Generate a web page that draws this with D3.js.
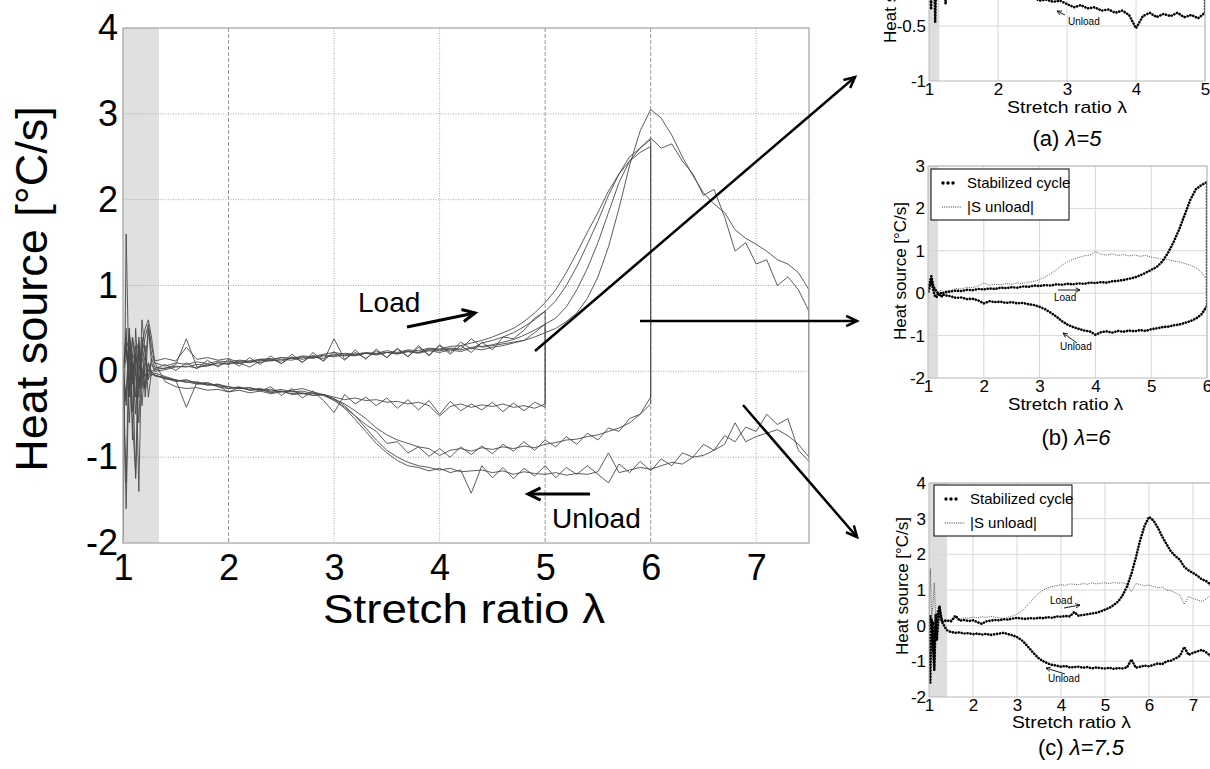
<!DOCTYPE html>
<html>
<head>
<meta charset="utf-8">
<script src="https://cdn.jsdelivr.net/npm/d3@7"></script>
<style>
    body { margin: 0; background: #fff; }
    svg text { font-family: Arial, "Liberation Sans", sans-serif; fill: #000; }
</style>
</head>
<body>
<div id="fig"></div>
<script>
// stretch ratio grid (fine steps in the shaded start zone, then 0.1)
var lam = [1.0, 1.03, 1.06, 1.09, 1.12, 1.15, 1.18, 1.21, 1.24, 1.27, 1.3,
    1.4, 1.5, 1.6, 1.7, 1.8, 1.9, 2.0, 2.1, 2.2, 2.3,
    2.4, 2.5, 2.6, 2.7, 2.8, 2.9, 3.0, 3.1, 3.2, 3.3,
    3.4, 3.5, 3.6, 3.7, 3.8, 3.9, 4.0, 4.1, 4.2, 4.3,
    4.4, 4.5, 4.6, 4.7, 4.8, 4.9, 5.0, 5.1, 5.2, 5.3,
    5.4, 5.5, 5.6, 5.7, 5.8, 5.9, 6.0, 6.1, 6.2, 6.3,
    6.4, 6.5, 6.6, 6.7, 6.8, 6.9, 7.0, 7.1, 7.2, 7.3,
    7.4, 7.5];

// cycles up to lambda = 5
var load5a = [0.0, 0.3, -0.1, 0.4, 0.1, 0.2, 0.05, -0.2, 0.5, 0.1, 0.0,
    0.02, 0.05, 0.06, 0.04, 0.08, 0.07, 0.1, 0.09, 0.12, 0.1,
    0.13, 0.12, 0.16, 0.14, 0.17, 0.15, 0.2, 0.18, 0.19, 0.21,
    0.19, 0.22, 0.2, 0.23, 0.21, 0.24, 0.22, 0.25, 0.23, 0.27,
    0.25, 0.28, 0.3, 0.33, 0.36, 0.45, 0.55];
var unload5a = [0.0, -0.35, 0.3, -0.47, 0.5, -0.2, 0.1, 0.3, -0.3, 0.0, -0.05,
    -0.08, -0.12, -0.1, -0.14, -0.16, -0.15, -0.2, -0.18, -0.22, -0.21,
    -0.25, -0.23, -0.27, -0.26, -0.28, -0.27, -0.3, -0.33, -0.31, -0.34,
    -0.33, -0.36, -0.35, -0.38, -0.36, -0.4, -0.52, -0.41, -0.38, -0.42,
    -0.39, -0.41, -0.38, -0.42, -0.4, -0.43, -0.38];
var load5b = [0.1, -0.4, 0.5, -0.1, 0.3, -0.3, 0.6, 0.2, -0.1, 0.15, 0.05,
    0.03, 0.08, 0.38, 0.05, 0.06, 0.1, 0.08, 0.12, 0.11, 0.14,
    0.15, 0.09, 0.17, 0.11, 0.19, 0.12, 0.38, 0.14, 0.22, 0.15,
    0.24, 0.16, 0.26, 0.17, 0.28, 0.19, 0.3, 0.2, 0.3, 0.22,
    0.34, 0.25, 0.4, 0.38, 0.48, 0.62, 0.7];
var unload5b = [0.0, 0.5, -0.6, 0.2, -0.3, 0.4, -0.1, -0.2, 0.1, -0.05, -0.02,
    -0.06, -0.1, -0.42, -0.13, -0.15, -0.17, -0.18, -0.2, -0.19, -0.23,
    -0.18, -0.28, -0.2, -0.31, -0.23, -0.34, -0.48, -0.27, -0.38, -0.3,
    -0.4, -0.31, -0.43, -0.33, -0.45, -0.34, -0.5, -0.35, -0.46, -0.38,
    -0.45, -0.36, -0.47, -0.37, -0.46, -0.36, -0.42];

// cycles up to lambda = 6
var load6a = [0.05, 0.25, 0.4, 0.2, 0.1, 0.05, 0.0, -0.05, 0.02, 0.0, 0.02,
    0.04, 0.06, 0.05, 0.08, 0.07, 0.1, 0.09, 0.11, 0.1, 0.13,
    0.12, 0.14, 0.13, 0.16, 0.15, 0.18, 0.17, 0.19, 0.18, 0.21,
    0.2, 0.22, 0.21, 0.23, 0.22, 0.25, 0.24, 0.26, 0.25, 0.28,
    0.29, 0.31, 0.34, 0.37, 0.42, 0.48, 0.55, 0.62, 0.75, 0.95,
    1.2, 1.5, 1.85, 2.2, 2.45, 2.55, 2.62];
var unload6a = [0.0, 0.15, 0.3, 0.1, -0.05, -0.1, 0.0, -0.05, -0.08, -0.03, -0.05,
    -0.07, -0.11, -0.1, -0.14, -0.13, -0.17, -0.24, -0.19, -0.21, -0.2,
    -0.23, -0.21, -0.24, -0.23, -0.26, -0.28, -0.32, -0.38, -0.46, -0.55,
    -0.66, -0.74, -0.8, -0.84, -0.88, -0.9, -0.98, -0.92, -0.9, -0.93,
    -0.89, -0.91, -0.88, -0.9, -0.87, -0.89, -0.85, -0.83, -0.8, -0.79,
    -0.76, -0.74, -0.7, -0.66, -0.6, -0.5, -0.3];
var load6b = [0.0, -0.3, 0.45, -0.15, 0.2, 0.35, -0.2, 0.1, 0.0, 0.08, 0.03,
    0.08, 0.01, 0.1, 0.03, 0.13, 0.05, 0.14, 0.06, 0.16, 0.08,
    0.18, 0.09, 0.2, 0.1, 0.22, 0.12, 0.23, 0.13, 0.25, 0.14,
    0.26, 0.16, 0.27, 0.17, 0.3, 0.18, 0.31, 0.22, 0.34, 0.26,
    0.33, 0.36, 0.4, 0.45, 0.52, 0.6, 0.7, 0.82, 1.0, 1.22,
    1.48, 1.75, 2.05, 2.3, 2.5, 2.6, 2.7];
var unload6b = [0.0, 0.4, -0.3, 0.1, -0.5, 0.3, -0.1, 0.2, -0.05, 0.0, -0.04,
    -0.09, -0.1, -0.13, -0.12, -0.16, -0.15, -0.18, -0.2, -0.19, -0.22,
    -0.21, -0.24, -0.23, -0.26, -0.25, -0.28, -0.34, -0.42, -0.52, -0.62,
    -0.7, -0.84, -0.82, -0.95, -0.88, -0.99, -0.9, -1.0, -0.88, -0.97,
    -0.87, -0.96, -0.85, -0.93, -0.82, -0.92, -0.8, -0.88, -0.76, -0.85,
    -0.72, -0.8, -0.66, -0.7, -0.55, -0.5, -0.38];

// cycles up to lambda = 7.5
var load75a = [0.0, 0.3, -0.2, 0.1, -1.25, 0.0, 0.2, 0.4, 0.55, 0.3, 0.12,
    0.15, 0.12, 0.28, 0.14, 0.16, 0.13, 0.15, 0.1, 0.05, 0.12,
    0.14, 0.16, 0.15, 0.18, 0.17, 0.2, 0.22, 0.2, 0.19, 0.21,
    0.2, 0.22, 0.21, 0.24, 0.22, 0.26, 0.25, 0.27, 0.26, 0.38,
    0.28, 0.3, 0.32, 0.34, 0.36, 0.4, 0.45, 0.5, 0.58, 0.68,
    0.85, 1.1, 1.45, 1.9, 2.4, 2.8, 3.05, 2.95, 2.75, 2.5,
    2.28, 2.08, 1.95, 1.85, 1.65, 1.55, 1.48, 1.4, 1.3, 1.25,
    1.15, 0.95];
var unload75a = [0.0, -1.6, 0.2, -0.6, -1.2, 0.3, -0.4, 0.1, 0.5, 0.2, 0.1,
    -0.12, -0.18, -0.2, -0.19, -0.22, -0.21, -0.24, -0.22, -0.25, -0.23,
    -0.26, -0.24, -0.22, -0.2, -0.24, -0.27, -0.32, -0.4, -0.52, -0.66,
    -0.8, -0.92, -1.0, -1.06, -1.1, -1.12, -1.15, -1.13, -1.17, -1.16,
    -1.15, -1.18, -1.16, -1.2, -1.17, -1.19, -1.2, -1.18, -1.21, -1.19,
    -1.2, -1.17, -0.95, -1.18, -1.15, -1.12, -1.14, -1.1, -1.06, -1.08,
    -1.0, -0.98, -0.92, -0.85, -0.6, -0.82, -0.76, -0.72, -0.68, -0.75,
    -0.85, -1.0];
var load75b = [-1.98, 1.6, -0.3, 0.4, 0.0, -0.6, 0.3, 0.5, 0.6, 0.4, 0.1,
    0.06, 0.1, 0.08, 0.11, 0.09, 0.12, 0.11, 0.13, 0.12, 0.14,
    0.13, 0.16, 0.15, 0.17, 0.16, 0.19, 0.18, 0.21, 0.2, 0.22,
    0.21, 0.24, 0.22, 0.25, 0.24, 0.27, 0.26, 0.29, 0.3, 0.33,
    0.36, 0.4, 0.45, 0.5, 0.58, 0.68, 0.8, 0.95, 1.15, 1.38,
    1.62, 1.85, 2.1, 2.3, 2.45, 2.6, 2.72, 2.6, 2.65, 2.45,
    2.3, 2.05, 2.12, 1.8, 1.4, 1.5, 1.25, 1.3, 1.0, 1.1,
    0.95, 0.7];
var unload75b = [0.0, -1.3, 0.5, -0.8, 0.2, -1.4, 0.4, -0.3, 0.1, 0.0, -0.05,
    -0.08, -0.1, -0.12, -0.15, -0.14, -0.18, -0.2, -0.19, -0.22, -0.21,
    -0.24, -0.23, -0.26, -0.25, -0.28, -0.27, -0.33, -0.43, -0.56, -0.7,
    -0.84, -0.95, -1.04, -1.1, -1.12, -1.16, -1.13, -1.18, -1.15, -1.42,
    -1.1, -1.24, -1.12, -1.25, -1.13, -1.22, -1.1, -1.24, -1.12, -1.2,
    -1.1, -1.2, -1.3, -1.08, -1.18, -1.05, -1.16, -1.02, -1.1, -0.95,
    -1.0, -0.85, -0.92, -0.75, -0.82, -0.65, -0.7, -0.5, -0.62, -0.55,
    -0.92, -1.05];

// ticks
var xTicksMain = [1, 2, 3, 4, 5, 6, 7];
var yTicksMain = [-2, -1, 0, 1, 2, 3, 4];
var dashedX = [2, 5, 6];
var xTicksA = [1, 2, 3, 4, 5], yTicksA = [-1, -0.5];
var xTicksB = [1, 2, 3, 4, 5, 6], yTicksB = [-2, -1, 0, 1, 2, 3];
var xTicksC = [1, 2, 3, 4, 5, 6, 7], yTicksC = [-2, -1, 0, 1, 2, 3, 4];
var legendLabels = ["Stabilized cycle", "|S unload|"];

var svg = d3.select("#fig")
    .append("svg")
    .attr("width", 1210)
    .attr("height", 769);

// a closed loop: load going out, unload coming back
function cyclePoints(load, unload) {
    var pts = load.map((v, i) => [lam[i], v]);
    for (var i = unload.length - 1; i >= 0; i--) pts.push([lam[i], unload[i]]);
    return pts;
}

function drawArrow(g, x1, y1, x2, y2, w, head) {
    g.append("line")
        .attr("x1", x1).attr("y1", y1).attr("x2", x2).attr("y2", y2)
        .attr("stroke", "#000").attr("stroke-width", w);
    var a = Math.atan2(y2 - y1, x2 - x1), s = 0.45;
    var p = [[x2 - head * Math.cos(a - s), y2 - head * Math.sin(a - s)], [x2, y2],
        [x2 - head * Math.cos(a + s), y2 - head * Math.sin(a + s)]];
    g.append("path").attr("d", d3.line()(p))
        .attr("fill", "none").attr("stroke", "#000").attr("stroke-width", w)
        .attr("stroke-linejoin", "miter");
}

function genMain() {
    var x = d3.scaleLinear().domain([1, 7.5]).range([123, 809]);
    var y = d3.scaleLinear().domain([-2, 4]).range([543, 28]);
    var g = svg.append("g");

    svg.append("clipPath").attr("id", "clipMain").append("rect")
        .attr("x", x(1)).attr("y", y(4))
        .attr("width", x(7.5) - x(1)).attr("height", y(-2) - y(4));

    // shaded start zone
    g.append("rect")
        .attr("x", x(1)).attr("y", y(4))
        .attr("width", x(1.34) - x(1)).attr("height", y(-2) - y(4))
        .attr("fill", "#e0e0e0");

    g.selectAll(".vgrid")
        .data(xTicksMain.slice(1))
        .enter().append("line")
        .attr("x1", d => x(d)).attr("x2", d => x(d))
        .attr("y1", y(4)).attr("y2", y(-2))
        .attr("stroke", d => dashedX.includes(d) ? "#8a8a8a" : "#a0a0a0")
        .attr("stroke-width", 0.9)
        .attr("stroke-dasharray", d => dashedX.includes(d) ? "4,2" : "1,1.5");
    g.selectAll(".hgrid")
        .data(yTicksMain.slice(1, -1))
        .enter().append("line")
        .attr("x1", x(1)).attr("x2", x(7.5))
        .attr("y1", d => y(d)).attr("y2", d => y(d))
        .attr("stroke", "#a0a0a0").attr("stroke-width", 0.9)
        .attr("stroke-dasharray", "1,1.5");

    var line = d3.line().x(d => x(d[0])).y(d => y(d[1]));
    var cycles = [
        cyclePoints(load5a, unload5a), cyclePoints(load5b, unload5b),
        cyclePoints(load6a, unload6a), cyclePoints(load6b, unload6b),
        cyclePoints(load75a, unload75a), cyclePoints(load75b, unload75b)
    ];
    g.append("g").attr("clip-path", "url(#clipMain)")
        .selectAll("path")
        .data(cycles)
        .enter().append("path")
        .attr("d", line)
        .attr("fill", "none")
        .attr("stroke", "#4a4a4a")
        .attr("stroke-width", 0.9);

    g.append("rect")
        .attr("x", x(1)).attr("y", y(4))
        .attr("width", x(7.5) - x(1)).attr("height", y(-2) - y(4))
        .attr("fill", "none").attr("stroke", "#a8a8a8").attr("stroke-width", 1.3);

    var xaxis = d3.axisBottom(x).tickValues(xTicksMain).tickSize(0).tickPadding(11)
        .tickFormat(d => String(d));
    g.append("g").attr("transform", "translate(0," + y(-2) + ")").call(xaxis)
        .call(a => a.select(".domain").remove())
        .selectAll("text").style("font-size", "36px").attr("fill", "#000");
    var yaxis = d3.axisLeft(y).tickValues(yTicksMain).tickSize(0).tickPadding(5)
        .tickFormat(d => String(d));
    g.append("g").attr("transform", "translate(" + x(1) + ",0)").call(yaxis)
        .call(a => a.select(".domain").remove())
        .selectAll("text").style("font-size", "36px").attr("fill", "#000");

    g.append("text")
        .attr("transform", "translate(47,289) rotate(-90)")
        .attr("text-anchor", "middle")
        .style("font-size", "45px")
        .text("Heat source [°C/s]");
    g.append("text")
        .attr("x", 323).attr("y", 623)
        .attr("textLength", 282).attr("lengthAdjust", "spacingAndGlyphs")
        .style("font-size", "40px")
        .text("Stretch ratio λ");

    // load / unload annotations
    g.append("text").attr("x", 358).attr("y", 312).style("font-size", "28px").text("Load");
    drawArrow(g, 407, 327, 475, 313, 3, 14);
    g.append("text").attr("x", 552).attr("y", 528).style("font-size", "28px").text("Unload");
    drawArrow(g, 590, 494, 528, 494, 3, 14);

    // arrows out to the side panels
    drawArrow(g, 535, 351, 855, 77, 2.5, 12);
    drawArrow(g, 640, 321, 857, 321, 2.5, 12);
    drawArrow(g, 743, 405, 857, 537, 2.5, 12);
}

function genPanel(p) {
    var x = d3.scaleLinear().domain([1, p.xmax]).range([p.left, p.right]);
    var y = d3.scaleLinear().domain(p.ydom).range([p.bottom, p.top]);
    var g = svg.append("g");
    var w = p.right - p.left, h = p.bottom - p.top;

    svg.append("clipPath").attr("id", "clip" + p.name).append("rect")
        .attr("x", p.left).attr("y", p.top).attr("width", w).attr("height", h);

    g.append("rect")
        .attr("x", p.left).attr("y", p.top)
        .attr("width", x(p.band) - p.left).attr("height", h)
        .attr("fill", "#dedede");

    g.selectAll(".vg").data(p.xTicks.slice(1)).enter().append("line")
        .attr("x1", d => x(d)).attr("x2", d => x(d))
        .attr("y1", p.top).attr("y2", p.bottom)
        .attr("stroke", "#d8d8d8").attr("stroke-width", 1);
    g.selectAll(".hg").data(p.yTicks.slice(1)).enter().append("line")
        .attr("x1", p.left).attr("x2", p.right)
        .attr("y1", d => y(d)).attr("y2", d => y(d))
        .attr("stroke", "#d8d8d8").attr("stroke-width", 1);

    var line = d3.line().x(d => x(d[0])).y(d => y(d[1]));
    var plot = g.append("g").attr("clip-path", "url(#clip" + p.name + ")");
    // |S unload| : magnitude of the unloading heat source
    plot.append("path")
        .attr("d", line(p.unload.map((v, i) => [lam[i], Math.abs(v)])))
        .attr("fill", "none").attr("stroke", "#444")
        .attr("stroke-width", 0.9).attr("stroke-dasharray", "1,1.2");
    plot.append("path")
        .attr("d", line(cyclePoints(p.load, p.unload)))
        .attr("fill", "none").attr("stroke", "#000")
        .attr("stroke-width", 2.6).attr("stroke-linecap", "round")
        .attr("stroke-dasharray", "0.1,2.9");

    g.append("rect")
        .attr("x", p.left).attr("y", p.top).attr("width", w).attr("height", h)
        .attr("fill", "none").attr("stroke", "#b8b8b8").attr("stroke-width", 1);

    var xaxis = d3.axisBottom(x).tickValues(p.xTicks).tickSize(0).tickPadding(2)
        .tickFormat(d => String(d));
    g.append("g").attr("transform", "translate(0," + p.bottom + ")").call(xaxis)
        .call(a => a.select(".domain").remove())
        .selectAll("text").style("font-size", "17px").attr("fill", "#000");
    var yaxis = d3.axisLeft(y).tickValues(p.yTicks).tickSize(0).tickPadding(3)
        .tickFormat(d => String(d));
    g.append("g").attr("transform", "translate(" + p.left + ",0)").call(yaxis)
        .call(a => a.select(".domain").remove())
        .selectAll("text").style("font-size", "17px").attr("fill", "#000");

    g.append("text")
        .attr("transform", "translate(" + p.ytitle[0] + "," + p.ytitle[1] + ") rotate(-90)")
        .attr("text-anchor", p.ytitle[2])
        .style("font-size", "17px")
        .text("Heat source [°C/s]");
    g.append("text")
        .attr("x", p.xtitle[0]).attr("y", p.xtitle[1])
        .attr("textLength", p.xtitle[2]).attr("lengthAdjust", "spacingAndGlyphs")
        .style("font-size", "17px")
        .text("Stretch ratio λ");

    var cap = g.append("text")
        .attr("x", p.caption[0]).attr("y", p.caption[1])
        .attr("text-anchor", "middle")
        .style("font-size", "22px");
    cap.append("tspan").text("(" + p.name + ") ");
    cap.append("tspan").style("font-style", "italic").text("λ=" + p.xmax);

    if (p.legend) {
        var lg = g.append("g").attr("transform", "translate(" + p.legend[0] + "," + p.legend[1] + ")");
        lg.append("rect").attr("width", 138).attr("height", 51)
            .attr("fill", "#fff").attr("stroke", "#000").attr("stroke-width", 1);
        lg.selectAll("circle").data([12, 17, 22]).enter().append("circle")
            .attr("cx", d => d).attr("cy", 14).attr("r", 1.7).attr("fill", "#000");
        lg.append("line").attr("x1", 11).attr("x2", 31).attr("y1", 38).attr("y2", 38)
            .attr("stroke", "#333").attr("stroke-width", 1).attr("stroke-dasharray", "1,1.2");
        lg.selectAll("text").data(legendLabels).enter().append("text")
            .attr("x", 36).attr("y", (d, i) => 19 + i * 24)
            .style("font-size", "15px")
            .text(d => d);
    }

    // small load / unload notes
    p.notes.forEach(n => {
        g.append("text").attr("x", n.tx).attr("y", n.ty).style("font-size", "10px").text(n.label);
        drawArrow(g, n.a[0], n.a[1], n.a[2], n.a[3], 0.9, 5);
    });
}

genMain();
genPanel({
    name: "a", xmax: 5, left: 929, right: 1205, top: -139, bottom: 81, ydom: [-1, 1],
    xTicks: xTicksA, yTicks: yTicksA, band: 1.15, load: load5a, unload: unload5a,
    ytitle: [896, 43, "start"], xtitle: [1007, 113, 120], caption: [1067, 146], legend: null,
    notes: [{ label: "Unload", tx: 1068, ty: 25, a: [1065, 15, 1057, 11] }]
});
genPanel({
    name: "b", xmax: 6, left: 928, right: 1207, top: 166, bottom: 378, ydom: [-2, 3],
    xTicks: xTicksB, yTicks: yTicksB, band: 1.18, load: load6a, unload: unload6a,
    ytitle: [906, 271, "middle"], xtitle: [1008, 410, 115], caption: [1076, 445], legend: [931, 169],
    notes: [{ label: "Load", tx: 1054, ty: 301, a: [1058, 290, 1080, 290] },
        { label: "Unload", tx: 1060, ty: 350, a: [1077, 343, 1063, 333] }]
});
genPanel({
    name: "c", xmax: 7.5, left: 929, right: 1215, top: 483, bottom: 697, ydom: [-2, 4],
    xTicks: xTicksC, yTicks: yTicksC, band: 1.41, load: load75a, unload: unload75a,
    ytitle: [908, 586, "middle"], xtitle: [1012, 728, 119], caption: [1081, 755], legend: [934, 485],
    notes: [{ label: "Load", tx: 1050, ty: 604, a: [1064, 608, 1080, 605] },
        { label: "Unload", tx: 1048, ty: 682, a: [1065, 674, 1046, 668] }]
});
</script>
</body>
</html>
